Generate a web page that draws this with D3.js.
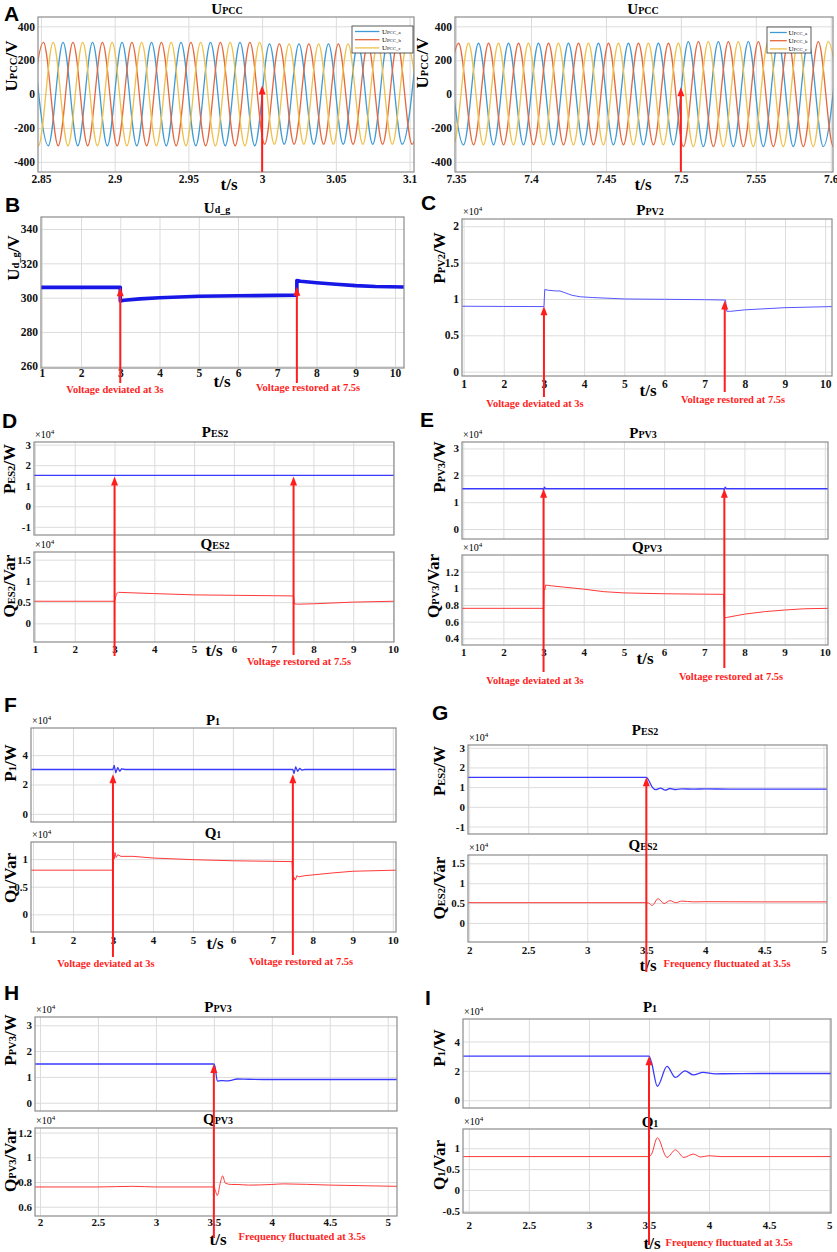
<!DOCTYPE html>
<meta charset="utf-8">
<script src="https://d3js.org/d3.v7.min.js"></script>
<style>
  body { margin: 0; background: #fff; }
  text { font-family: "Liberation Serif", "Times New Roman", serif; font-weight: bold; }
  .letter { font-family: "Liberation Sans", Arial, sans-serif; }
</style>
<div id="my_dataviz"></div>

<script>

// ---------------- data ----------------

// A: three-phase PCC voltage, extreme points (time s, volts)
var upccLeftTA = [2.845,2.855,2.865,2.875,2.885,2.895,2.905,2.915,2.925,2.935,2.945,2.955,2.965,2.975,2.985,2.995,3.005,3.015,3.025,3.035,3.045,3.055,3.065,3.075,3.085,3.095,3.105];
var upccLeftA  = [305,-305,305,-305,305,-305,305,-305,305,-305,305,-305,305,-305,305,-305,296,-296,296,-296,296,-296,296,-296,296,-296,296];
var upccLeftTB = [2.8417,2.8517,2.8617,2.8717,2.8817,2.8917,2.9017,2.9117,2.9217,2.9317,2.9417,2.9517,2.9617,2.9717,2.9817,2.9917,3.0017,3.0117,3.0217,3.0317,3.0417,3.0517,3.0617,3.0717,3.0817,3.0917,3.1017,3.1117];
var upccLeftB  = [-305,305,-305,305,-305,305,-305,305,-305,305,-305,305,-305,305,-305,305,-296,296,-296,296,-296,296,-296,296,-296,296,-296,296];
var upccLeftTC = [2.8383,2.8483,2.8583,2.8683,2.8783,2.8883,2.8983,2.9083,2.9183,2.9283,2.9383,2.9483,2.9583,2.9683,2.9783,2.9883,2.9983,3.0083,3.0183,3.0283,3.0383,3.0483,3.0583,3.0683,3.0783,3.0883,3.0983,3.1083];
var upccLeftC  = [305,-305,305,-305,305,-305,305,-305,305,-305,305,-305,305,-305,305,-305,305,-296,296,-296,296,-296,296,-296,296,-296,296,-296];

var upccRightTA = [7.345,7.355,7.365,7.375,7.385,7.395,7.405,7.415,7.425,7.435,7.445,7.455,7.465,7.475,7.485,7.495,7.505,7.515,7.525,7.535,7.545,7.555,7.565,7.575,7.585,7.595,7.605];
var upccRightA  = [300,-300,300,-300,300,-300,300,-300,300,-300,300,-300,300,-300,300,-300,310,-310,310,-310,310,-310,310,-310,310,-310,310];
var upccRightTB = [7.3417,7.3517,7.3617,7.3717,7.3817,7.3917,7.4017,7.4117,7.4217,7.4317,7.4417,7.4517,7.4617,7.4717,7.4817,7.4917,7.5017,7.5117,7.5217,7.5317,7.5417,7.5517,7.5617,7.5717,7.5817,7.5917,7.6017,7.6117];
var upccRightB  = [-300,300,-300,300,-300,300,-300,300,-300,300,-300,300,-300,300,-300,300,-310,310,-310,310,-310,310,-310,310,-310,310,-310,310];
var upccRightTC = [7.3383,7.3483,7.3583,7.3683,7.3783,7.3883,7.3983,7.4083,7.4183,7.4283,7.4383,7.4483,7.4583,7.4683,7.4783,7.4883,7.4983,7.5083,7.5183,7.5283,7.5383,7.5483,7.5583,7.5683,7.5783,7.5883,7.5983,7.6083];
var upccRightC  = [300,-300,300,-300,300,-300,300,-300,300,-300,300,-300,300,-300,300,-300,300,-310,310,-310,310,-310,310,-310,310,-310,310,-310];
var upccTicksLeft  = [2.85, 2.9, 2.95, 3, 3.05, 3.1];
var upccTicksRight = [7.35, 7.4, 7.45, 7.5, 7.55, 7.6];
var upccTicksY = [-400, -200, 0, 200, 400];
var upccTips = [50, 40];

// B: Ud_g (V)
var udT = [0.98, 3.0, 3.0, 3.1, 3.5, 4, 5, 6, 7, 7.5, 7.5, 7.6, 8, 8.5, 9, 9.5, 10.23];
var udV = [306, 306, 298, 298.5, 299.3, 299.9, 300.8, 301.1, 301.3, 301.4, 310, 309.6, 308.7, 307.8, 307, 306.5, 306.2];
var udTicksY = [260, 280, 300, 320, 340];
var udTips = [306, 306.3];

// C: PPV2 (x1e4 W)
var ppv2T = [0.96, 2, 3.0, 3.02, 3.1, 3.2, 3.3, 3.4, 3.5, 3.6, 3.7, 3.8, 3.9, 4.2, 5, 6, 7, 7.52, 7.55, 7.65, 8, 9, 10.17];
var ppv2V = [0.9, 0.897, 0.895, 1.13, 1.12, 1.115, 1.11, 1.11, 1.09, 1.07, 1.05, 1.04, 1.03, 1.02, 1.0, 0.995, 0.99, 0.985, 0.83, 0.83, 0.85, 0.88, 0.895];
var ppv2TicksY = [0, 0.5, 1, 1.5, 2];
var ppv2Tips = [0.9, 0.98];

// D: PES2 / QES2 under voltage deviation (x1e4)
var pes2T = [0.975, 10.025];
var pes2V = [1.5, 1.5];
var qes2T = [0.975, 3.0, 3.05, 3.1, 4, 5, 6, 7, 7.5, 7.52, 7.6, 8, 9, 10.025];
var qes2V = [0.52, 0.52, 0.70, 0.73, 0.70, 0.67, 0.66, 0.65, 0.645, 0.46, 0.45, 0.46, 0.5, 0.52];
var pes2TicksY = [-1, 0, 1, 2, 3];
var qes2TicksY = [0, 0.5, 1, 1.5];
var pes2Tips = [1.45, 1.45];

// E: PPV3 / QPV3 under voltage deviation (x1e4)
var ppv3T = [0.97, 2.98, 3.0, 3.02, 3.05, 7.48, 7.5, 7.52, 7.55, 10.08];
var ppv3V = [1.5, 1.5, 1.44, 1.56, 1.5, 1.5, 1.44, 1.56, 1.5, 1.5];
var qpv3T = [0.97, 3.0, 3.01, 3.03, 3.05, 3.2, 3.5, 4, 4.5, 5, 6, 7, 7.48, 7.5, 7.55, 8, 8.5, 9, 9.5, 10.08];
var qpv3V = [0.76, 0.76, 1.0, 0.98, 1.04, 1.03, 1.015, 0.99, 0.96, 0.945, 0.935, 0.93, 0.928, 0.65, 0.65, 0.69, 0.72, 0.74, 0.755, 0.76];
var ppv3TicksY = [0, 1, 2, 3];
var qpv3TicksY = [0.4, 0.6, 0.8, 1, 1.2];
var ppv3Tips = [1.5, 1.5];

// F: P1 / Q1 under voltage deviation (x1e4)
var p1T = [0.95, 3.0, 3.03, 3.07, 3.12, 3.17, 3.22, 3.3, 7.5, 7.53, 7.57, 7.62, 7.67, 7.72, 7.8, 10.08];
var p1V = [3.02, 3.02, 3.3, 2.8, 3.15, 2.9, 3.07, 3.02, 3.02, 2.75, 3.2, 2.9, 3.1, 2.98, 3.02, 3.02];
var q1T = [0.95, 3.0, 3.01, 3.03, 3.05, 3.08, 3.12, 3.2, 3.5, 4, 5, 6, 7, 7.48, 7.5, 7.52, 7.56, 7.6, 7.65, 7.8, 8.5, 9, 10.08];
var q1V = [0.8, 0.8, 1.15, 1.0, 1.12, 1.03, 1.08, 1.05, 1.05, 1.02, 0.99, 0.97, 0.96, 0.955, 0.6, 0.68, 0.62, 0.7, 0.68, 0.7, 0.75, 0.78, 0.8];
var p1TicksY = [0, 2, 4];
var q1TicksY = [0, 0.5, 1];
var p1Tips = [2.7, 2.7];

// G/H/I: frequency fluctuation at 3.5 s (x1e4)
var pes2fT = [1.99, 3.5, 3.52, 3.55, 3.58, 3.62, 3.66, 3.7, 3.75, 3.8, 3.9, 4.0, 4.2, 4.5, 5.03];
var pes2fV = [1.5, 1.5, 1.35, 1.0, 0.87, 0.95, 0.85, 0.93, 0.88, 0.91, 0.9, 0.91, 0.9, 0.9, 0.9];
var qes2fT = [1.99, 3.5, 3.52, 3.55, 3.6, 3.65, 3.7, 3.75, 3.8, 3.9, 4.0, 4.5, 5.03];
var qes2fV = [0.51, 0.51, 0.5, 0.44, 0.61, 0.49, 0.56, 0.51, 0.55, 0.53, 0.535, 0.53, 0.53];
var ppv3fT = [1.957, 3.5, 3.51, 3.53, 3.56, 3.6, 3.65, 3.7, 3.8, 4.0, 4.5, 5.08];
var ppv3fV = [1.5, 1.5, 1.4, 0.84, 0.86, 0.85, 0.87, 0.92, 0.91, 0.9, 0.9, 0.9];
var qpv3fT = [1.957, 2.5, 2.8, 3.0, 3.5, 3.51, 3.53, 3.555, 3.575, 3.6, 3.65, 3.7, 3.8, 4.0, 4.1, 4.5, 5.08];
var qpv3fV = [0.76, 0.76, 0.765, 0.76, 0.76, 0.74, 0.69, 0.79, 0.85, 0.79, 0.78, 0.78, 0.775, 0.78, 0.785, 0.775, 0.765];
var p1fT = [1.952, 3.5, 3.52, 3.57, 3.65, 3.72, 3.8, 3.87, 3.95, 4.05, 4.5, 5.015];
var p1fV = [3.0, 3.0, 2.6, 0.95, 2.3, 1.55, 2.0, 1.72, 1.89, 1.8, 1.82, 1.82];
var q1fT = [1.952, 3.5, 3.52, 3.57, 3.65, 3.72, 3.79, 3.87, 3.93, 4.0, 4.1, 4.5, 5.015];
var q1fV = [0.8, 0.8, 0.85, 1.25, 0.78, 0.96, 0.78, 0.86, 0.79, 0.82, 0.8, 0.8, 0.8];
var freqTicksX = [2, 2.5, 3, 3.5, 4, 4.5, 5];
var ppv3fTicksY = [0, 1, 2, 3];
var qpv3fTicksY = [0.6, 0.8, 1, 1.2];
var q1fTicksY = [-0.5, 0, 0.5, 1];
var freqTips = [1.5, 1.5, 3.0];   // G, H, I

var voltTicksX = [1, 2, 3, 4, 5, 6, 7, 8, 9, 10];
var voltEvents = [3, 7.5];
var freqEvent = 3.5;
var voltNotes = ["Voltage deviated at 3s", "Voltage restored at 7.5s"];
var freqNote = "Frequency fluctuated at 3.5s";
var legendNames = ["a", "b", "c"];

// ---------------- drawing ----------------

var SERIF = '"Liberation Serif", "Times New Roman", serif';
var RED = "#ff1e1e";
var BLUE = "#3a3aff";
var QRED = "#ff3a3a";
var PHASE = ["#3e9bd6", "#e5683f", "#efc04a"];

var svg = d3.select("#my_dataviz")
  .append("svg")
    .attr("width", 837)
    .attr("height", 1252);
svg.append("rect").attr("width", 837).attr("height", 1252).attr("fill", "#fff");

var clipCount = 0;

function gridStyle(g) {
  g.select(".domain").remove();
  g.selectAll("line").attr("stroke", "#dcdcdc").attr("stroke-width", 1);
}

function labelStyle(g, fs) {
  g.select(".domain").remove();
  g.attr("font-family", null).attr("font-size", null);
  g.selectAll("text")
    .style("font-family", SERIF)
    .style("font-weight", "bold")
    .style("font-size", fs + "px")
    .attr("fill", "#111");
}

// one MATLAB-like subplot
function drawPlot(p) {
  var b = p.box;
  var x = d3.scaleLinear().domain(p.xDomain).range([b[0], b[2]]);
  var y = d3.scaleLinear().domain(p.yDomain).range([b[3], b[1]]);
  var g = svg.append("g");
  var fs = p.fs || 11;

  g.append("g").attr("transform", "translate(0," + b[3] + ")")
    .call(d3.axisBottom(x).tickValues(p.xTicks).tickSize(-(b[3] - b[1])).tickFormat(""))
    .call(gridStyle);
  g.append("g").attr("transform", "translate(" + b[0] + ",0)")
    .call(d3.axisLeft(y).tickValues(p.yTicks).tickSize(-(b[2] - b[0])).tickFormat(""))
    .call(gridStyle);

  if (p.xLabels !== false) {
    g.append("g").attr("transform", "translate(0," + b[3] + ")")
      .call(d3.axisBottom(x).tickValues(p.xTicks).tickSize(0).tickPadding(p.xPad).tickFormat(String))
      .call(labelStyle, fs);
  }
  g.append("g").attr("transform", "translate(" + b[0] + ",0)")
    .call(d3.axisLeft(y).tickValues(p.yTicks).tickSize(0).tickPadding(3).tickFormat(String))
    .call(labelStyle, fs);

  var id = "clip" + (clipCount++);
  g.append("clipPath").attr("id", id)
    .append("rect").attr("x", b[0]).attr("y", b[1]).attr("width", b[2] - b[0]).attr("height", b[3] - b[1]);
  var lines = g.append("g").attr("clip-path", "url(#" + id + ")");
  p.series.forEach(function (s) {
    var line = d3.line()
      .x(function (d, i) { return x(s.t[i]); })
      .y(function (d) { return y(d); })
      .curve(s.curve || d3.curveLinear);
    lines.append("path")
      .datum(s.v)
      .attr("d", line)
      .style("fill", "none")
      .style("stroke", s.color)
      .style("stroke-width", s.width || 1)
      .attr("stroke-linejoin", "round");
  });

  g.append("rect")
    .attr("x", b[0]).attr("y", b[1])
    .attr("width", b[2] - b[0]).attr("height", b[3] - b[1])
    .attr("fill", "none").attr("stroke", "#8c8c8c").attr("stroke-width", 1.2);

  if (p.exp) {
    var e = g.append("text").attr("x", b[0] + 1).attr("y", b[1] - 4);
    e.append("tspan").style("font-size", "10px").style("font-weight", "normal").text("\u00d710");
    e.append("tspan").style("font-size", "7px").style("font-weight", "normal").attr("dy", -4).text("4");
  }
  return { x: x, y: y };
}

function parts(sel, arr, big, small) {
  sel.append("tspan").style("font-size", big + "px").text(arr[0]);
  if (arr[1]) sel.append("tspan").style("font-size", small + "px").text(arr[1]);
  if (arr[2]) sel.append("tspan").style("font-size", big + "px").text(arr[2]);
}

function title(arr, cx, by) {
  var t = svg.append("text").attr("x", cx).attr("y", by).attr("text-anchor", "middle");
  parts(t, arr, 15, 10);
}

function yLabel(arr, bx, cy) {
  var t = svg.append("text")
    .attr("transform", "translate(" + bx + "," + cy + ") rotate(-90)")
    .attr("text-anchor", "middle");
  parts(t, arr, 17, 10.5);
}

function tsLabel(cx, by) {
  svg.append("text").attr("x", cx).attr("y", by).attr("text-anchor", "middle")
    .style("font-size", "17px").text("t/s");
}

function letter(s, x, y) {
  svg.append("text").attr("class", "letter").attr("x", x).attr("y", y)
    .style("font-size", "21px").text(s);
}

function note(s, cx, by) {
  svg.append("text").attr("x", cx).attr("y", by).attr("text-anchor", "middle")
    .style("font-size", "10.5px").attr("fill", RED).text(s);
}

function arrowUp(xp, yTip, yBottom) {
  svg.append("line")
    .attr("x1", xp).attr("x2", xp).attr("y1", yBottom).attr("y2", yTip + 6)
    .attr("stroke", RED).attr("stroke-width", 2);
  svg.append("path")
    .attr("d", "M" + xp + "," + yTip + "L" + (xp - 3.5) + "," + (yTip + 9) + "L" + (xp + 3.5) + "," + (yTip + 9) + "Z")
    .attr("fill", RED);
}

function legend(x0, y0, w, h) {
  svg.append("rect").attr("x", x0).attr("y", y0).attr("width", w).attr("height", h)
    .attr("fill", "#fff").attr("stroke", "#333").attr("stroke-width", 0.8);
  legendNames.forEach(function (n, i) {
    var yy = y0 + 5.5 + i * 8.2;
    svg.append("line").attr("x1", x0 + 3).attr("x2", x0 + w * 0.45).attr("y1", yy).attr("y2", yy)
      .attr("stroke", PHASE[i]).attr("stroke-width", 1.3);
    var t = svg.append("text").attr("x", x0 + w * 0.49).attr("y", yy + 2.2);
    t.append("tspan").style("font-size", "7px").style("font-weight", "normal").text("U");
    t.append("tspan").style("font-size", "4.8px").style("font-weight", "normal").text("PCC_" + n);
  });
}

function sines(tA, a, tB, b, tC, c) {
  return [
    { t: tA, v: a, color: PHASE[0], width: 1.3, curve: d3.curveMonotoneX },
    { t: tB, v: b, color: PHASE[1], width: 1.3, curve: d3.curveMonotoneX },
    { t: tC, v: c, color: PHASE[2], width: 1.3, curve: d3.curveMonotoneX }
  ];
}

// ----- A -----
var aL = drawPlot({ box: [38, 17, 414, 172], xDomain: [2.848, 3.103], yDomain: [-460, 455],
  xTicks: upccTicksLeft, yTicks: upccTicksY, xPad: 3, fs: 11.5,
  series: sines(upccLeftTA, upccLeftA, upccLeftTB, upccLeftB, upccLeftTC, upccLeftC) });
var aR = drawPlot({ box: [455, 17, 833, 172], xDomain: [7.3493, 7.6015], yDomain: [-460, 455],
  xTicks: upccTicksRight, yTicks: upccTicksY, xPad: 3, fs: 11.5,
  series: sines(upccRightTA, upccRightA, upccRightTB, upccRightB, upccRightTC, upccRightC) });
legend(352, 26, 61, 27);
legend(767, 27, 44, 26);
title(["U", "PCC"], 227, 14);
title(["U", "PCC"], 643, 14);
yLabel(["U", "PCC", "/V"], 17, 66);
yLabel(["U", "PCC", "/V"], 428, 63);
tsLabel(229, 190);
tsLabel(643, 190);
letter("A", 4, 21);

// ----- B -----
var bP = drawPlot({ box: [41, 217, 404, 368], xDomain: [0.98, 10.23], yDomain: [259, 347],
  xTicks: voltTicksX, yTicks: udTicksY, xPad: 1, fs: 11.5,
  series: [{ t: udT, v: udV, color: "#1717e6", width: 3.6 }] });
title(["U", "d_g"], 217, 213);
yLabel(["U", "d_g", "/V"], 19, 258);
tsLabel(222, 387);
letter("B", 5, 212);

// ----- C -----
var cP = drawPlot({ box: [462, 219, 832, 376], xDomain: [0.96, 10.17], yDomain: [-0.06, 2.1],
  xTicks: voltTicksX, yTicks: ppv2TicksY, xPad: 4, fs: 11.5, exp: true,
  series: [{ t: ppv2T, v: ppv2V, color: "#5555ff", width: 1 }] });
title(["P", "PV2"], 650, 215);
yLabel(["P", "PV2", "/W"], 445, 258);
tsLabel(648, 396);
letter("C", 421, 210);

// ----- D -----
var dP = drawPlot({ box: [34, 442, 394, 535], xDomain: [0.975, 10.025], yDomain: [-1.4, 3.13],
  xTicks: voltTicksX, yTicks: pes2TicksY, xLabels: false, exp: true,
  series: [{ t: pes2T, v: pes2V, color: BLUE, width: 1.3 }] });
var dQ = drawPlot({ box: [34, 552, 394, 642], xDomain: [0.975, 10.025], yDomain: [-0.44, 1.68],
  xTicks: voltTicksX, yTicks: qes2TicksY, xPad: 3, exp: true,
  series: [{ t: qes2T, v: qes2V, color: QRED, width: 1 }] });
title(["P", "ES2"], 215, 437);
title(["Q", "ES2"], 215, 549);
yLabel(["P", "ES2", "/W"], 15, 469);
yLabel(["Q", "ES2", "/Var"], 15, 586);
tsLabel(214, 656);
letter("D", 2, 428);

// ----- E -----
var eP = drawPlot({ box: [462, 442, 828, 539], xDomain: [0.97, 10.08], yDomain: [-0.37, 3.24],
  xTicks: voltTicksX, yTicks: ppv3TicksY, xLabels: false, exp: true,
  series: [{ t: ppv3T, v: ppv3V, color: BLUE, width: 1.3 }] });
var eQ = drawPlot({ box: [462, 555, 828, 645], xDomain: [0.97, 10.08], yDomain: [0.32, 1.40],
  xTicks: voltTicksX, yTicks: qpv3TicksY, xPad: 3, exp: true,
  series: [{ t: qpv3T, v: qpv3V, color: QRED, width: 1 }] });
title(["P", "PV3"], 643, 438);
title(["Q", "PV3"], 647, 552);
yLabel(["P", "PV3", "/W"], 445, 467);
yLabel(["Q", "PV3", "/Var"], 439, 586);
tsLabel(645, 664);
letter("E", 420, 427);

// ----- F -----
var fP = drawPlot({ box: [31, 728, 396, 822], xDomain: [0.95, 10.08], yDomain: [-0.56, 5.85],
  xTicks: voltTicksX, yTicks: p1TicksY, xLabels: false, exp: true,
  series: [{ t: p1T, v: p1V, color: BLUE, width: 1.3 }] });
var fQ = drawPlot({ box: [31, 842, 396, 932], xDomain: [0.95, 10.08], yDomain: [-0.32, 1.31],
  xTicks: voltTicksX, yTicks: q1TicksY, xPad: 4, exp: true,
  series: [{ t: q1T, v: q1V, color: QRED, width: 1 }] });
title(["P", "1"], 213, 725);
title(["Q", "1"], 213, 838);
yLabel(["P", "1", "/W"], 16, 763);
yLabel(["Q", "1", "/Var"], 16, 878);
tsLabel(215, 949);
letter("F", 4, 712);

// ----- G -----
var gP = drawPlot({ box: [468, 745, 827, 834], xDomain: [1.99, 5.03], yDomain: [-1.38, 3.14],
  xTicks: freqTicksX, yTicks: pes2TicksY, xLabels: false, exp: true,
  series: [{ t: pes2fT, v: pes2fV, color: BLUE, width: 1.3, curve: d3.curveMonotoneX }] });
var gQ = drawPlot({ box: [468, 855, 827, 942], xDomain: [1.99, 5.03], yDomain: [-0.48, 1.71],
  xTicks: freqTicksX, yTicks: qes2TicksY, xPad: 4, exp: true,
  series: [{ t: qes2fT, v: qes2fV, color: QRED, width: 1, curve: d3.curveMonotoneX }] });
title(["P", "ES2"], 645, 735);
title(["Q", "ES2"], 643, 850);
yLabel(["P", "ES2", "/W"], 445, 771);
yLabel(["Q", "ES2", "/Var"], 445, 888);
tsLabel(648, 971);
letter("G", 432, 720);

// ----- H -----
var hP = drawPlot({ box: [35, 1017, 397, 1111], xDomain: [1.957, 5.08], yDomain: [-0.32, 3.32],
  xTicks: freqTicksX, yTicks: ppv3fTicksY, xLabels: false, exp: true,
  series: [{ t: ppv3fT, v: ppv3fV, color: BLUE, width: 1.3, curve: d3.curveMonotoneX }] });
var hQ = drawPlot({ box: [35, 1128, 397, 1216], xDomain: [1.957, 5.08], yDomain: [0.525, 1.237],
  xTicks: freqTicksX, yTicks: qpv3fTicksY, xPad: 2, exp: true,
  series: [{ t: qpv3fT, v: qpv3fV, color: QRED, width: 1, curve: d3.curveMonotoneX }] });
title(["P", "PV3"], 218, 1012);
title(["Q", "PV3"], 218, 1124);
yLabel(["P", "PV3", "/W"], 16, 1040);
yLabel(["Q", "PV3", "/Var"], 16, 1160);
tsLabel(218, 1245);
letter("H", 4, 1000);

// ----- I -----
var iP = drawPlot({ box: [463, 1019, 831, 1108], xDomain: [1.952, 5.015], yDomain: [-0.53, 5.53],
  xTicks: freqTicksX, yTicks: p1TicksY, xLabels: false, exp: true,
  series: [{ t: p1fT, v: p1fV, color: BLUE, width: 1.3, curve: d3.curveMonotoneX }] });
var iQ = drawPlot({ box: [463, 1129, 831, 1213], xDomain: [1.952, 5.015], yDomain: [-0.55, 1.46],
  xTicks: freqTicksX, yTicks: q1fTicksY, xPad: 8, exp: true,
  series: [{ t: q1fT, v: q1fV, color: QRED, width: 1, curve: d3.curveMonotoneX }] });
title(["P", "1"], 650, 1012);
title(["Q", "1"], 650, 1127);
yLabel(["P", "1", "/W"], 445, 1048);
yLabel(["Q", "1", "/Var"], 445, 1165);
tsLabel(652, 1249);
letter("I", 425, 1005);

// ----- event arrows and notes -----
arrowUp(aL.x(voltEvents[0]), aL.y(upccTips[0]), 172);
arrowUp(aR.x(voltEvents[1]), aR.y(upccTips[1]), 172);

arrowUp(bP.x(voltEvents[0]), bP.y(udTips[0]), 383);
arrowUp(bP.x(voltEvents[1]), bP.y(udTips[1]), 383);
note(voltNotes[0], 115, 393);
note(voltNotes[1], 308, 391);

arrowUp(cP.x(voltEvents[0]), cP.y(ppv2Tips[0]), 397);
arrowUp(cP.x(voltEvents[1]), cP.y(ppv2Tips[1]), 392);
note(voltNotes[0], 535, 407);
note(voltNotes[1], 733, 403);

arrowUp(dP.x(voltEvents[0]), dP.y(pes2Tips[0]), 656);
arrowUp(dP.x(voltEvents[1]), dP.y(pes2Tips[1]), 655);
note(voltNotes[1], 299, 665);

arrowUp(eP.x(voltEvents[0]), eP.y(ppv3Tips[0]), 672);
arrowUp(eP.x(voltEvents[1]), eP.y(ppv3Tips[1]), 668);
note(voltNotes[0], 535, 684);
note(voltNotes[1], 731, 680);

arrowUp(fP.x(voltEvents[0]), fP.y(p1Tips[0]), 957);
arrowUp(fP.x(voltEvents[1]), fP.y(p1Tips[1]), 955);
note(voltNotes[0], 106, 967);
note(voltNotes[1], 301, 965);

arrowUp(gP.x(freqEvent), gP.y(freqTips[0]), 972);
note(freqNote, 727, 967);

arrowUp(hP.x(freqEvent), hP.y(freqTips[1]), 1238);
note(freqNote, 302, 1240);

arrowUp(iP.x(freqEvent), iP.y(freqTips[2]), 1245);
note(freqNote, 729, 1246);

</script>
